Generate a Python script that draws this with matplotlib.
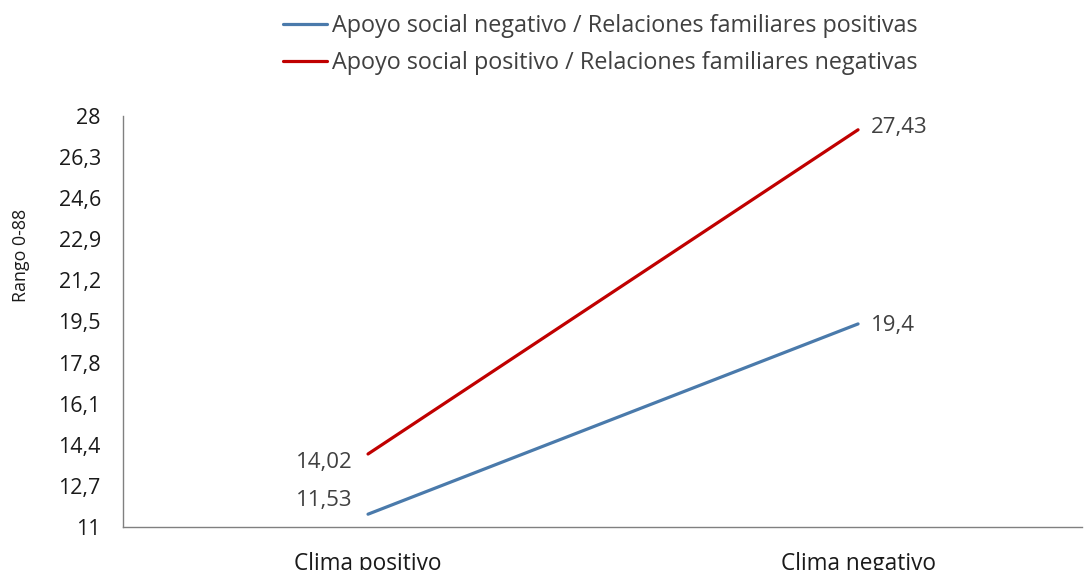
import matplotlib
matplotlib.use("Agg")
import matplotlib.pyplot as plt
import numpy as np

categories = ["Clima positivo", "Clima negativo"]
series_names = [
    "Apoyo social negativo / Relaciones familiares positivas",
    "Apoyo social positivo / Relaciones familiares negativas",
]
apoyo_neg = [11.53, 19.4]
apoyo_pos = [14.02, 27.43]
y_ticks = [11, 12.7, 14.4, 16.1, 17.8, 19.5, 21.2, 22.9, 24.6, 26.3, 28]

plt.rcParams["font.family"] = ["Open Sans", "DejaVu Sans"]

fig = plt.figure(figsize=(10.86, 5.70), dpi=100)
W, H = 1086, 570
ax = fig.add_axes([123 / W, 1 - 527 / H, (1082 - 123) / W, (527 - 116) / H])

x = np.arange(len(categories))
blue = "#4A7AAB"
red = "#C00000"
l1, = ax.plot(x, apoyo_neg, color=blue, lw=2.3, solid_capstyle="round")
l2, = ax.plot(x, apoyo_pos, color=red, lw=2.3, solid_capstyle="round")

ax.set_xlim(-0.5, 1.457)
ax.set_ylim(11, 28)


def fmt(v):
    return f"{v:g}".replace(".", ",")


ax.set_yticks(y_ticks)
ax.set_yticklabels([fmt(v) for v in y_ticks], fontsize=15.5, color="#1a1a1a")
ax.set_xticks(x)
ax.set_xticklabels(categories, fontsize=16.3, color="#1a1a1a")
ax.tick_params(axis="y", length=0, pad=16)
ax.tick_params(axis="x", length=0, pad=18)
for side in ("top", "right"):
    ax.spines[side].set_visible(False)
for side in ("left", "bottom"):
    ax.spines[side].set_color("#808080")
    ax.spines[side].set_linewidth(1)

fig.text(21 / W, 1 - 255 / H, "Rango 0-88", rotation=90, fontsize=12.8,
         color="#1a1a1a", ha="center", va="center")

lab_kw = dict(fontsize=16, color="#404040", va="center")
ax.annotate(fmt(apoyo_neg[0]), (x[0], apoyo_neg[0]), xytext=(-11, 10),
            textcoords="offset points", ha="right", **lab_kw)
ax.annotate(fmt(apoyo_pos[0]), (x[0], apoyo_pos[0]), xytext=(-11, -6),
            textcoords="offset points", ha="right", **lab_kw)
ax.annotate(fmt(apoyo_neg[1]), (x[1], apoyo_neg[1]), xytext=(9, -1),
            textcoords="offset points", ha="left", **lab_kw)
ax.annotate(fmt(apoyo_pos[1]), (x[1], apoyo_pos[1]), xytext=(9, 2),
            textcoords="offset points", ha="left", **lab_kw)

fig.legend([l1, l2], series_names, loc="upper left",
           bbox_to_anchor=(283 / W, 1 - 14 / H), frameon=False,
           borderpad=0, borderaxespad=0,
           fontsize=16.8, handlelength=1.9, handletextpad=0.2,
           labelspacing=0.55, labelcolor="#404040")

fig.savefig("out.png", dpi=100)
